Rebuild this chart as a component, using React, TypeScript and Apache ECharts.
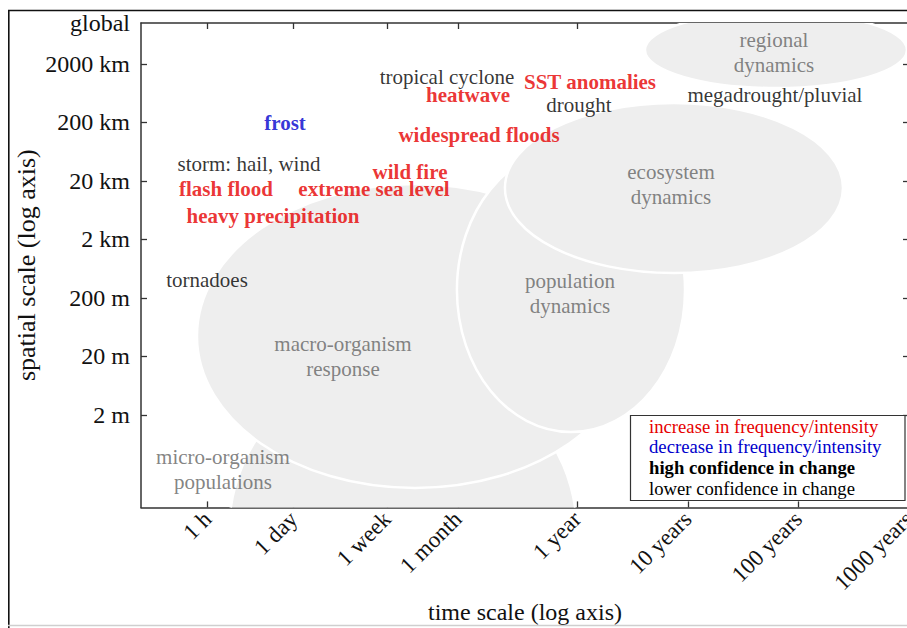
import React, { useEffect, useRef } from 'react';
import * as echarts from 'echarts';

// ---- axes (time in hours, space in metres, both on log10 scales) ----
const xMinHours = 1;
const xMaxHours = 8766000;
const xTickHours = [4, 24, 168, 730.5, 8766, 87660, 876600, 8766000];
const xTickLabels = ['1 h', '1 day', '1 week', '1 month', '1 year', '10 years', '100 years', '1000 years'];

const yMinMeters = 0.0525;
const yMaxMeters = 10000000;
const yTickMeters = [2, 20, 200, 2000, 20000, 200000, 2000000, 10000000];
const yTickLabels = ['2 m', '20 m', '200 m', '2 km', '20 km', '200 km', '2000 km', 'global'];

// ---- ecological regions (ellipses, in log10 units) ----
const regionNames = ['micro-organism\npopulations', 'macro-organism\nresponse', 'population\ndynamics', 'ecosystem\ndynamics', 'regional\ndynamics'];
const regionLogTime = [2.368, 2.477, 3.887, 4.818, 5.740];
const regionLogTimeHalf = [1.573, 1.971, 1.031, 1.528, 1.184];
const regionLogSpace = [-1.718, 1.650, 2.436, 4.179, 6.538];
const regionLogSpaceHalf = [2.974, 2.598, 2.427, 1.453, 0.650];
const regionLabelLogTime = [0.741, 1.826, 3.878, 4.791, 5.722];
const regionLabelLogSpace = [-0.632, 1.291, 2.376, 4.231, 6.496];

// ---- extreme events ----
const eventNames = ['tropical cyclone', 'heatwave', 'SST anomalies', 'drought', 'megadrought/pluvial', 'frost', 'widespread floods', 'storm: hail, wind', 'wild fire', 'flash flood', 'extreme sea level', 'heavy precipitation', 'tornadoes'];
const eventLogTime = [2.766, 2.956, 4.059, 3.959, 5.731, 1.302, 3.056, 0.976, 2.432, 0.768, 2.106, 1.193, 0.597];
const eventLogSpace = [6.077, 5.769, 5.991, 5.598, 5.769, 5.291, 5.085, 4.590, 4.453, 4.162, 4.162, 3.701, 2.607];
const eventTrend = ['none', 'increase', 'increase', 'none', 'none', 'decrease', 'increase', 'none', 'increase', 'increase', 'increase', 'increase', 'none'];
const eventConfidence = ['low', 'high', 'high', 'low', 'low', 'high', 'high', 'low', 'high', 'high', 'high', 'high', 'low'];

const legendTexts = ['increase in frequency/intensity', 'decrease in frequency/intensity', 'high confidence in change', 'lower confidence in change'];

const SERIF = "'Liberation Serif', 'DejaVu Serif', serif";
const RED = '#e60000';
const BLUE = '#0000cc';
const trendColor: Record<string, string> = { increase: RED, decrease: BLUE, none: '#000000' };

const lg = (v: number) => Math.log10(v);

export default function App() {
  const ref = useRef<HTMLDivElement>(null);

  useEffect(() => {
    if (!ref.current) return;
    const chart = echarts.init(ref.current, null, { renderer: 'svg' });

    const xTickVals = xTickHours.map(lg);
    const yTickVals = yTickMeters.map(lg);
    const xFmt = (v: number) => {
      const i = xTickVals.findIndex((t) => Math.abs(t - v) < 1e-6);
      return i >= 0 ? xTickLabels[i] : '';
    };
    const yFmt = (v: number) => {
      const i = yTickVals.findIndex((t) => Math.abs(t - v) < 1e-6);
      return i >= 0 ? yTickLabels[i] : '';
    };

    const axisLineStyle = { color: '#333', width: 1.5 };
    const tickStyle = { color: '#333', width: 1.3 };

    const option: any = {
      animation: false,
      backgroundColor: '#ffffff',
      grid: { left: 141, top: 23, width: 768, height: 484.4, containLabel: false, outerBoundsMode: 'none' },
      xAxis: [
        {
          type: 'value',
          position: 'bottom',
          min: lg(xMinHours),
          max: lg(xMaxHours),
          axisLine: { show: true, onZero: false, lineStyle: axisLineStyle },
          axisTick: { show: true, inside: true, length: 6, customValues: xTickVals, lineStyle: tickStyle },
          axisLabel: {
            customValues: xTickVals,
            formatter: xFmt,
            rotate: 45,
            margin: 8,
            fontSize: 23,
            fontFamily: SERIF,
            color: '#111',
          },
          splitLine: { show: false },
          name: 'time scale (log axis)',
          nameLocation: 'middle',
          nameGap: 93,
          nameMoveOverlap: false,
          nameTextStyle: { fontSize: 24, fontFamily: SERIF, color: '#111' },
        },
        {
          type: 'value',
          position: 'top',
          min: lg(xMinHours),
          max: lg(xMaxHours),
          axisLine: { show: true, onZero: false, lineStyle: axisLineStyle },
          axisTick: { show: true, inside: true, length: 6, customValues: xTickVals, lineStyle: tickStyle },
          axisLabel: { show: false },
          splitLine: { show: false },
        },
      ],
      yAxis: [
        {
          type: 'value',
          position: 'left',
          min: lg(yMinMeters),
          max: lg(yMaxMeters),
          axisLine: { show: true, onZero: false, lineStyle: axisLineStyle },
          axisTick: { show: true, inside: true, length: 6, customValues: yTickVals.slice(0, 7), lineStyle: tickStyle },
          axisLabel: {
            customValues: yTickVals,
            formatter: yFmt,
            margin: 11,
            fontSize: 24,
            fontFamily: SERIF,
            color: '#111',
          },
          splitLine: { show: false },
          name: 'spatial scale (log axis)',
          nameLocation: 'middle',
          nameGap: 102,
          nameMoveOverlap: false,
          nameTextStyle: { fontSize: 26, fontFamily: SERIF, color: '#111' },
        },
        {
          type: 'value',
          position: 'right',
          min: lg(yMinMeters),
          max: lg(yMaxMeters),
          axisLine: { show: true, onZero: false, lineStyle: axisLineStyle },
          axisTick: { show: true, inside: true, length: 6, customValues: yTickVals.slice(0, 7), lineStyle: tickStyle },
          axisLabel: { show: false },
          splitLine: { show: false },
        },
      ],
      series: [
        {
          type: 'custom',
          name: 'regions',
          xAxisIndex: 0,
          yAxisIndex: 0,
          clip: true,
          silent: true,
          z: 1,
          data: regionNames.map((_, i) => [regionLogTime[i], regionLogSpace[i], regionLogTimeHalf[i], regionLogSpaceHalf[i]]),
          renderItem: (params: any, api: any) => {
            const c = api.coord([api.value(0), api.value(1)]);
            const s = api.size([api.value(2), api.value(3)]);
            return {
              type: 'ellipse',
              shape: { cx: c[0], cy: c[1], rx: s[0], ry: s[1] },
              style: { fill: '#eeeeee', stroke: '#ffffff', lineWidth: 2.5 },
            };
          },
        },
        {
          type: 'scatter',
          name: 'region labels',
          symbolSize: 0,
          silent: true,
          z: 3,
          data: regionNames.map((n, i) => ({ name: n, value: [regionLabelLogTime[i], regionLabelLogSpace[i]] })),
          label: {
            show: true,
            position: 'inside',
            formatter: '{b}',
            color: '#646464',
            fontSize: 21,
            lineHeight: 25,
            fontFamily: SERIF,
            align: 'center',
          },
        },
        {
          type: 'scatter',
          name: 'events',
          symbolSize: 0,
          silent: true,
          z: 4,
          data: eventNames.map((n, i) => ({
            name: n,
            value: [eventLogTime[i], eventLogSpace[i]],
            label: {
              color: trendColor[eventTrend[i]],
              fontWeight: eventConfidence[i] === 'high' ? 'bold' : 'normal',
            },
          })),
          label: {
            show: true,
            position: 'inside',
            formatter: '{b}',
            fontSize: 21,
            fontFamily: SERIF,
          },
        },
      ],
      graphic: [
        { type: 'line', silent: true, z: 10, shape: { x1: 8, y1: 10.5, x2: 907, y2: 10.5 }, style: { stroke: '#111', lineWidth: 1.6 } },
        { type: 'line', silent: true, z: 10, shape: { x1: 8.8, y1: 10, x2: 8.8, y2: 628 }, style: { stroke: '#111', lineWidth: 1.6 } },
        { type: 'line', silent: true, z: 10, shape: { x1: 8, y1: 625.5, x2: 907, y2: 625.5 }, style: { stroke: '#cfcfcf', lineWidth: 1.5 } },
        { type: 'rect', silent: true, z: 10, shape: { x: 630.5, y: 415.5, width: 274.5, height: 85 }, style: { fill: '#ffffff', stroke: '#333', lineWidth: 1.2 } },
        ...legendTexts.map((t, i) => ({
          type: 'text',
          silent: true,
          z: 11,
          x: 649,
          y: 426 + i * 20.7,
          style: {
            text: t,
            fill: i === 0 ? RED : i === 1 ? BLUE : '#000',
            fontSize: 18.7,
            fontFamily: SERIF,
            fontWeight: i === 2 ? 'bold' : 'normal',
            align: 'left',
            verticalAlign: 'middle',
          },
        })),
      ],
    };

    chart.setOption(option);
    return () => chart.dispose();
  }, []);

  return <div ref={ref} style={{ position: 'fixed', left: 0, top: 0, width: 915, height: 628 }} />;
}
